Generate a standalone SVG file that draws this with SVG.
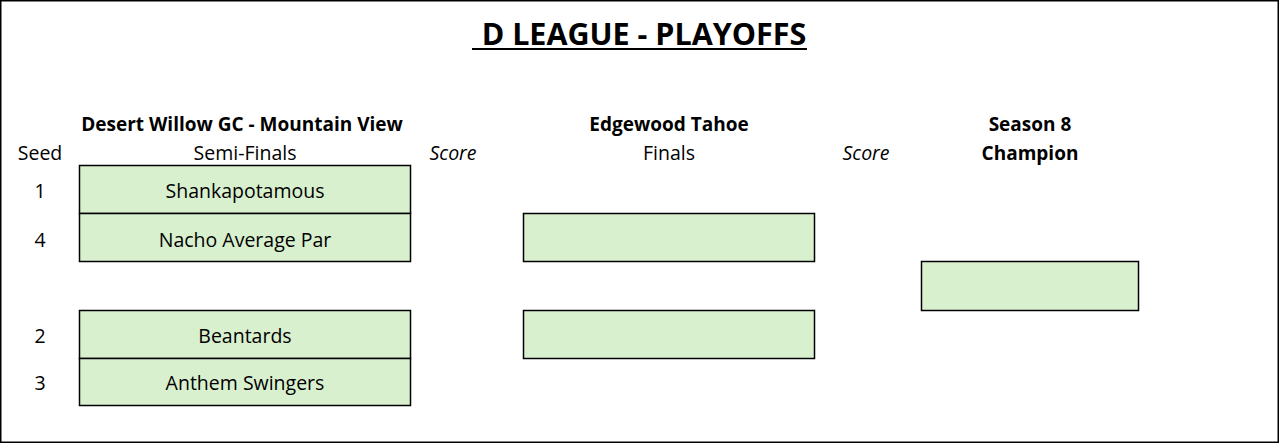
<svg xmlns="http://www.w3.org/2000/svg" width="1280" height="444" viewBox="0 0 1280 444">
<style>
text{font-family:"Open Sans","Liberation Sans",sans-serif;fill:#000;text-anchor:middle}
.t{font-size:19.5px}
.b{font-size:19px;font-weight:bold}
.i{font-size:19.5px;font-style:italic}
.title{font-size:30.5px;font-weight:bold}
.box{fill:#D9F0CF;stroke:#000;stroke-width:1.5}
</style>
<rect x="0.75" y="0.75" width="1277.5" height="441.5" fill="#fff" stroke="#000" stroke-width="1.5"/>
<g id="title">
<text class="title" x="644" y="44.5">D LEAGUE - PLAYOFFS</text>
<line x1="472" y1="49" x2="807" y2="49" stroke="#000" stroke-width="2"/>
</g>
<g id="headers">
<text class="b" x="242" y="130.5">Desert Willow GC - Mountain View</text>
<text class="t" x="40" y="160">Seed</text>
<text class="t" x="245" y="160">Semi-Finals</text>
<text class="i" x="453" y="160">Score</text>
<text class="b" x="669" y="130.5">Edgewood Tahoe</text>
<text class="t" x="669" y="160">Finals</text>
<text class="i" x="866" y="160">Score</text>
<text class="b" x="1030" y="130.5">Season 8</text>
<text class="b" x="1030" y="159.5">Champion</text>
</g>
<g id="seeds">
<text class="t" x="40" y="198">1</text>
<text class="t" x="40" y="247">4</text>
<text class="t" x="40" y="343">2</text>
<text class="t" x="40" y="390">3</text>
</g>
<g id="semi1">
<rect class="box" x="79.5" y="165.5" width="331" height="48"/>
<text class="t" x="245" y="198">Shankapotamous</text>
</g>
<g id="semi2">
<rect class="box" x="79.5" y="213.5" width="331" height="48"/>
<text class="t" x="245" y="247">Nacho Average Par</text>
</g>
<g id="semi3">
<rect class="box" x="79.5" y="310.5" width="331" height="48"/>
<text class="t" x="245" y="343">Beantards</text>
</g>
<g id="semi4">
<rect class="box" x="79.5" y="358.5" width="331" height="47"/>
<text class="t" x="245" y="390">Anthem Swingers</text>
</g>
<g id="final1">
<rect class="box" x="523.5" y="213.5" width="291" height="48"/>
</g>
<g id="final2">
<rect class="box" x="523.5" y="310.5" width="291" height="48"/>
</g>
<g id="champion">
<rect class="box" x="921.5" y="261.5" width="217" height="49"/>
</g>
<g id="connectors"></g>
</svg>
